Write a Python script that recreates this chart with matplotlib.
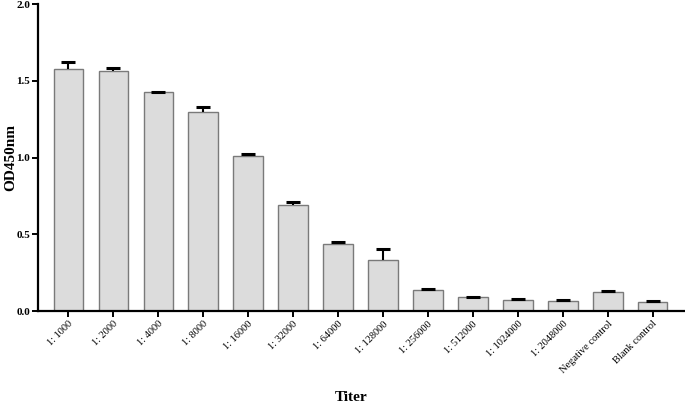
import matplotlib
matplotlib.use('Agg')
import matplotlib.pyplot as plt
import numpy as np

# titers and OD readings
titers = ['1: 1000', '1: 2000', '1: 4000', '1: 8000', '1: 16000', '1: 32000',
          '1: 64000', '1: 128000', '1: 256000', '1: 512000', '1: 1024000',
          '1: 2048000', 'Negative control', 'Blank control']
od_mean = [1.58, 1.563, 1.425, 1.294, 1.008, 0.69, 0.437, 0.33, 0.137, 0.089,
           0.072, 0.065, 0.124, 0.059]
od_err = [0.04, 0.022, 0.004, 0.033, 0.015, 0.02, 0.01, 0.076, 0.004, 0.004,
          0.004, 0.004, 0.006, 0.006]

plt.rcParams['font.family'] = ['Liberation Serif', 'DejaVu Serif']

fig = plt.figure(figsize=(6.85, 4.04), dpi=100)
ax = fig.add_axes([0.056, 0.23, 0.942, 0.76])

x = np.arange(len(titers))
mean = np.array(od_mean)
err = np.array(od_err)
ax.bar(x, mean, width=0.66, color='#dcdcdc', edgecolor='#7a7a7a', linewidth=1.0, zorder=2)
# upper half error bars only
ax.vlines(x, mean, mean + err, color='black', linewidth=1.5, zorder=3)
ax.plot(x, mean + err, linestyle='none', marker='_', markersize=10,
        markeredgewidth=2.2, color='black', zorder=3)

ax.set_xlim(-0.67, 13.69)
ax.set_ylim(0, 2.0)
ax.set_yticks([0, 0.5, 1.0, 1.5, 2.0])
ax.set_yticklabels(['0.0', '0.5', '1.0', '1.5', '2.0'], fontsize=8, fontweight='bold')
ax.set_xticks(x)
ax.set_xticklabels(titers, rotation=45, ha='right', rotation_mode='anchor', fontsize=7.5)

ax.spines['top'].set_visible(False)
ax.spines['right'].set_visible(False)
ax.spines['left'].set_linewidth(1.6)
ax.spines['bottom'].set_linewidth(1.6)
ax.tick_params(axis='both', width=1.4, length=4, direction='out', pad=2)

ax.set_ylabel('OD450nm', fontsize=11, fontweight='bold')
ax.yaxis.set_label_coords(-0.033, 0.5)
fig.text(0.512, 0.008, 'Titer', fontsize=11, fontweight='bold', ha='center')

plt.savefig('out.png', dpi=100)
